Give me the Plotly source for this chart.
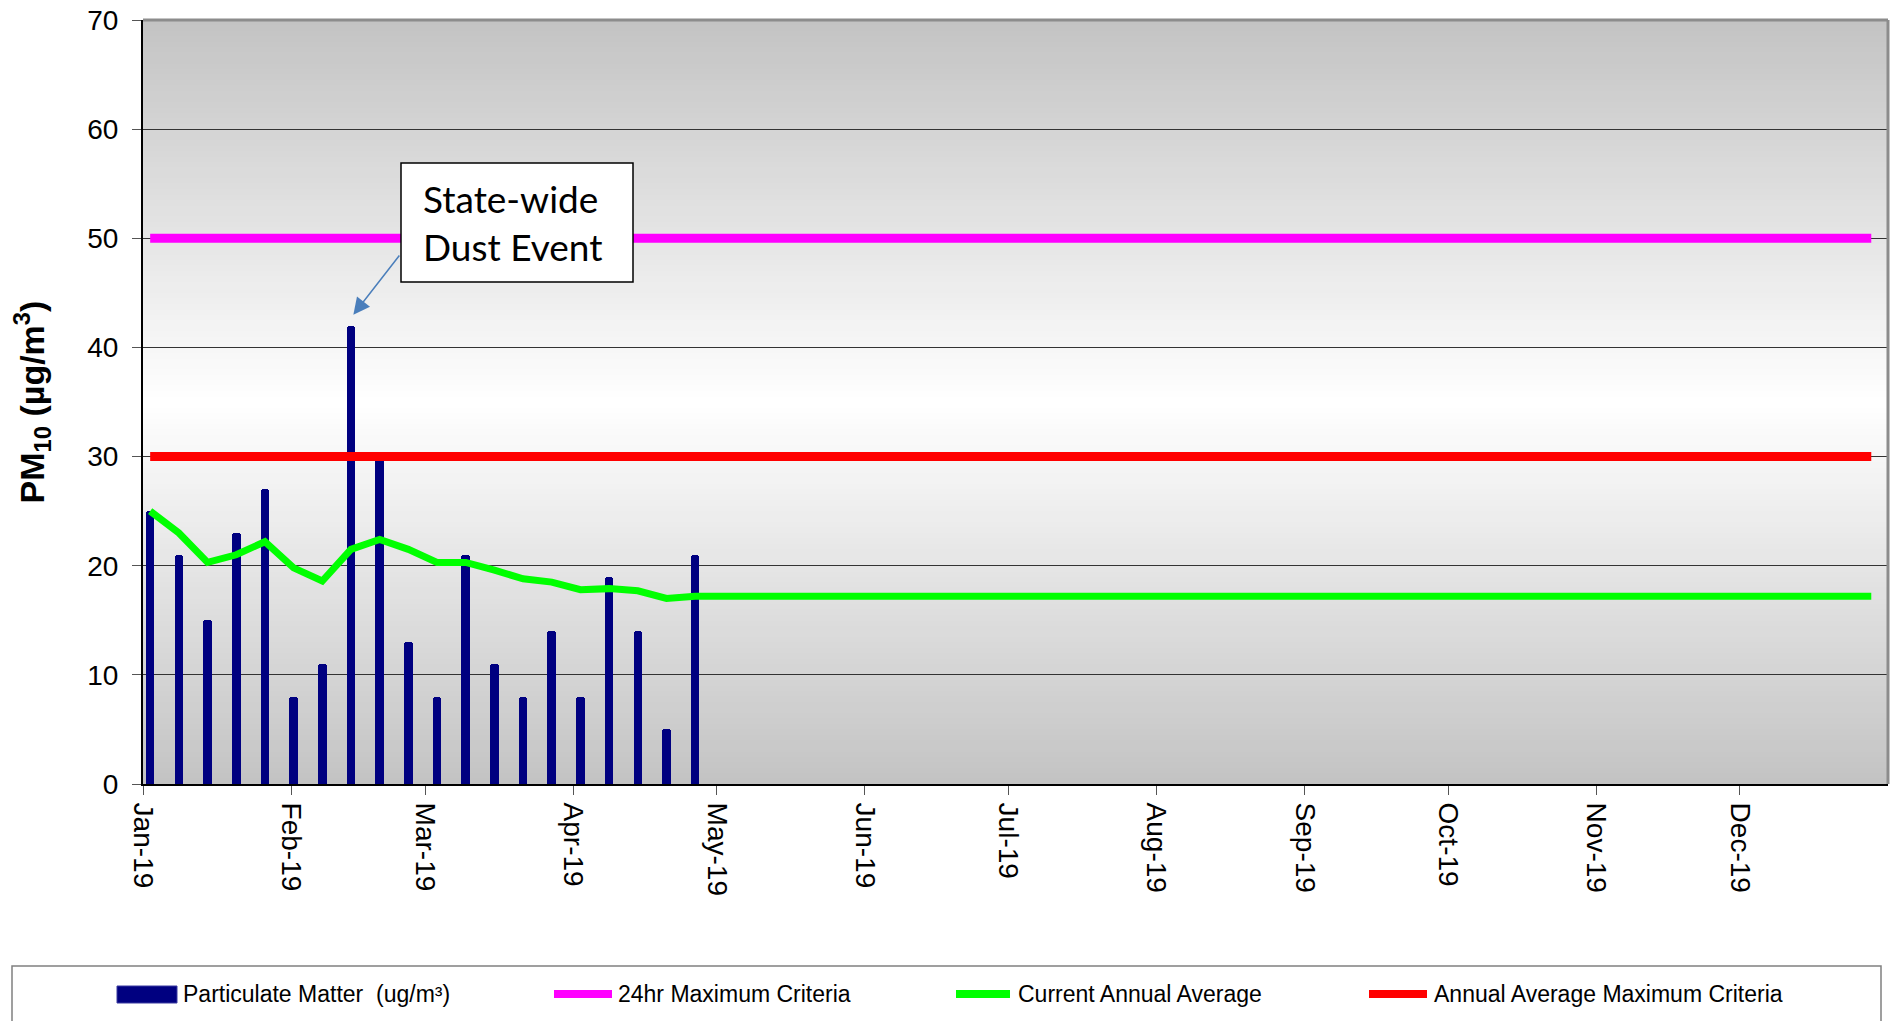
import plotly.graph_objects as go
import pandas as pd

# ---------------- data ----------------
sample_dates = pd.date_range("2019-01-02", periods=61, freq="6D")   # 1-in-6 day sampling schedule
pm10 = [25, 21, 15, 23, 27, 8, 11, 42, 30, 13, 8, 21, 11, 8, 14, 8, 19, 14, 5, 21]
annual_avg = [25.0, 23.0, 20.3, 21.0, 22.2, 19.8, 18.6, 21.5, 22.4, 21.5,
              20.3, 20.3, 19.6, 18.8, 18.5, 17.8, 17.9, 17.7, 17.0, 17.2] + [17.2] * 41
max_24hr = [50] * 61
annual_max = [30] * 61
month_ticks = pd.date_range("2019-01-01", periods=12, freq="MS")
month_labels = ["Jan-19", "Feb-19", "Mar-19", "Apr-19", "May-19", "Jun-19", "Jul-19",
                "Aug-19", "Sep-19", "Oct-19", "Nov-19", "Dec-19"]
y_ticks = [0, 10, 20, 30, 40, 50, 60, 70]

# ---------------- layout constants ----------------
W, H = 1894, 1021
ML, MR, MT, MB = 143, 6, 20, 237
PW, PH = W - ML - MR, H - MT - MB
DAY = 86400000
FONT = "Liberation Sans, Arial, sans-serif"


def px_x(px):
    return (px - ML) / PW


def px_y(py):
    return (H - MB - py) / PH


fig = go.Figure()

fig.add_trace(go.Scatter(x=sample_dates, y=annual_max, mode="lines",
                         line=dict(color="#ff0000", width=9),
                         xperiod=DAY, xperiodalignment="middle",
                         name="Annual Average Maximum Criteria", showlegend=False))
fig.add_trace(go.Scatter(x=sample_dates, y=max_24hr, mode="lines",
                         line=dict(color="#ff00ff", width=9),
                         xperiod=DAY, xperiodalignment="middle",
                         name="24hr Maximum Criteria", showlegend=False))
fig.add_trace(go.Bar(x=sample_dates[:len(pm10)], y=pm10,
                     marker=dict(color="#000080", line=dict(width=0), cornerradius=3),
                     width=1.8 * DAY, xperiod=DAY, xperiodalignment="middle",
                     name="Particulate Matter  (ug/m³)", showlegend=False))
fig.add_trace(go.Scatter(x=sample_dates, y=annual_avg, mode="lines",
                         line=dict(color="#00ff00", width=7),
                         xperiod=DAY, xperiodalignment="middle",
                         name="Current Annual Average", showlegend=False))

shapes = []
# background gradient (grey - white - grey), overlapping bands to avoid seams
n = 140
for i in range(n):
    y0 = 70 * i / n
    y1 = min(70, 70 * (i + 1) / n + 0.3)
    ym = 70 * (i + 0.5) / n
    c = int(round(195 + 60 * (1 - abs(ym - 35) / 35)))
    shapes.append(dict(type="rect", xref="paper", yref="y", x0=0, x1=1, y0=y0, y1=y1,
                       fillcolor=f"rgb({c},{c},{c})", line=dict(width=0), layer="below"))
# top & right grey border
shapes.append(dict(type="line", xref="paper", yref="paper", x0=0, x1=1, y0=1, y1=1,
                   line=dict(color="#8c8c8c", width=3)))
shapes.append(dict(type="line", xref="paper", yref="paper", x0=1, x1=1, y0=0, y1=1,
                   line=dict(color="#8c8c8c", width=3)))

# dust event callout box
shapes.append(dict(type="rect", xref="paper", yref="paper",
                   x0=px_x(401), x1=px_x(633), y0=px_y(282), y1=px_y(163),
                   line=dict(color="black", width=1.5), fillcolor="white"))

# custom legend
shapes.append(dict(type="rect", xref="paper", yref="paper",
                   x0=px_x(12), x1=px_x(1881), y0=px_y(966), y1=px_y(1040),
                   line=dict(color="#808080", width=1.5), fillcolor="white"))
legend_y = 994
shapes.append(dict(type="rect", xref="paper", yref="paper",
                   x0=px_x(117), x1=px_x(177), y0=px_y(986), y1=px_y(1003),
                   line=dict(color="#3a3aa0", width=1), fillcolor="#000080"))
for (xa, xb, col) in [(554, 612, "#ff00ff"), (956, 1010, "#00ff00"), (1369, 1427, "#ff0000")]:
    shapes.append(dict(type="line", xref="paper", yref="paper",
                       x0=px_x(xa), x1=px_x(xb), y0=px_y(legend_y), y1=px_y(legend_y),
                       line=dict(color=col, width=8)))

annotations = []
for (xt, txt) in [(181, "Particulate Matter  (ug/m³)"), (616, "24hr Maximum Criteria"),
                  (1016, "Current Annual Average"), (1432, "Annual Average Maximum Criteria")]:
    annotations.append(dict(xref="paper", yref="paper", x=px_x(xt), y=px_y(legend_y),
                            xanchor="left", yanchor="middle", showarrow=False, text=txt,
                            font=dict(family=FONT, size=23, color="black")))

# dust event arrow + text
idx = pm10.index(max(pm10))
annotations.append(dict(xref="x", yref="y",
                        x=sample_dates[idx] + pd.Timedelta(hours=24), y=pm10[idx] + 1,
                        text=" ", showarrow=True, ax=49, ay=-63,
                        arrowhead=2, arrowsize=2.2, arrowwidth=1.5, arrowcolor="#4a7ebb"))
annotations.append(dict(xref="paper", yref="paper", x=px_x(421), y=px_y(223),
                        xanchor="left", yanchor="middle", showarrow=False,
                        text="State-wide<br>Dust Event", align="left",
                        font=dict(family="Lato, Open Sans, sans-serif", size=37, color="black")))

fig.update_layout(
    width=W, height=H,
    margin=dict(l=ML, r=MR, t=MT, b=MB, autoexpand=False),
    paper_bgcolor="white", plot_bgcolor="rgba(0,0,0,0)",
    showlegend=False, bargap=0,
    shapes=shapes, annotations=annotations,
    xaxis=dict(type="date", range=["2019-01-01", "2020-01-01"],
               tickvals=month_ticks, ticktext=month_labels, tickangle=90,
               tickfont=dict(family=FONT, size=28, color="black"),
               ticks="outside", ticklen=9, tickcolor="#555555", tickwidth=1,
               ticklabelstandoff=2,
               showgrid=False, showline=True, linecolor="black", linewidth=2,
               zeroline=False, fixedrange=True, automargin=False),
    yaxis=dict(range=[0, 70], tickvals=y_ticks,
               tickfont=dict(family=FONT, size=28, color="black"),
               ticks="outside", ticklen=9, tickcolor="#555555", tickwidth=1,
               ticklabelstandoff=8,
               showgrid=True, gridcolor="#333333", gridwidth=1,
               showline=True, linecolor="black", linewidth=2, zeroline=False,
               title=dict(text="<b>PM<sub>10</sub> (µg/m<sup>3</sup>)</b>",
                          font=dict(family=FONT, size=34, color="black"), standoff=32),
               fixedrange=True, automargin=False),
)

fig.write_html("out.html", config={"displayModeBar": False},
               post_script="document.body.style.margin='0';")
